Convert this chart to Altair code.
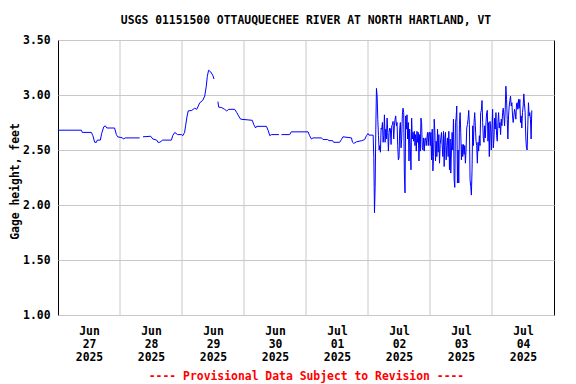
import altair as alt
import pandas as pd

TITLE = "USGS 01151500 OTTAUQUECHEE RIVER AT NORTH HARTLAND, VT"
Y_TITLE = "Gage height, feet"
FOOTER = "---- Provisional Data Subject to Revision ----"
FONT = "DejaVu Sans Mono"

START = pd.Timestamp("2025-06-27 00:00")

# Smooth part: hours after Jun 27 00:00 and gage height (ft)
smooth_hours = [0, 9.06, 9.4, 12.9, 13.5, 14.2, 14.9, 15.2, 16.4, 16.9, 17.7, 18.3, 18.9, 21.9,
                22.6, 23.1, 25, 25.4, 26, 31.6,
                32.9, 35.9, 36.7, 38.2, 38.7, 39.4, 40.5, 43.9, 44.4, 45.2, 46.3, 47.8, 48.3, 49,
                49.4, 49.9, 50.4, 51.8, 52.9, 53.7, 54.3, 54.9, 56, 56.8, 57.4, 57.8, 58.3, 59.1,
                59.9, 60.4,
                61.9, 62.2, 63.4, 64.5, 65.3, 66.1, 68.4, 69.2, 69.9, 70.7, 75.2, 75.8, 76.5, 76.9,
                80.7, 81.3, 82, 82.6, 85.5,
                86.5, 89.7, 90.3, 96.8, 97.4, 98.1, 98.7, 102, 102.6, 104.4, 104.9, 106.3, 106.7,
                109, 109.7, 110.3, 113.6, 114, 114.5, 115.6, 117.6, 118.7, 119.4, 120, 120.4, 122]
smooth_vals = [2.68, 2.68, 2.66, 2.66, 2.63, 2.57, 2.57, 2.59, 2.59, 2.65, 2.71, 2.72, 2.70, 2.70,
               2.64, 2.62, 2.61, 2.60, 2.61, 2.61,
               2.62, 2.625, 2.60, 2.59, 2.57, 2.57, 2.59, 2.59, 2.63, 2.66, 2.64, 2.64, 2.63, 2.66,
               2.72, 2.80, 2.855, 2.86, 2.88, 2.87, 2.90, 2.93, 2.95, 2.99, 3.08, 3.17, 3.225, 3.21,
               3.18, 3.145,
               2.94, 2.89, 2.885, 2.87, 2.855, 2.87, 2.87, 2.84, 2.81, 2.78, 2.77, 2.73, 2.70, 2.715,
               2.715, 2.68, 2.63, 2.64, 2.64,
               2.64, 2.64, 2.665, 2.665, 2.63, 2.60, 2.61, 2.61, 2.595, 2.595, 2.585, 2.585, 2.57,
               2.57, 2.595, 2.62, 2.61, 2.57, 2.56, 2.575, 2.585, 2.595, 2.63, 2.65, 2.635, 2.635]
gap_after_hours = [31.6, 60.4, 85.5]

# Oscillating part (Jul 02 02:00 to Jul 04 15:30), roughly 15-minute readings
osc_day2 = [2.43, 1.93, 2.16, 2.69, 3.06, 2.99, 2.78, 2.63, 2.50, 2.54, 2.48, 2.70, 2.69, 2.75,
            2.57, 2.63, 2.82, 2.57, 2.69, 2.60, 2.79, 2.66, 2.49, 2.66, 2.70, 2.69, 2.55, 2.72,
            2.73, 2.76, 2.60, 2.72, 2.78, 2.81, 2.72, 2.75, 2.54, 2.41, 2.43, 2.69, 2.75, 2.52,
            2.60, 2.82, 2.88, 2.84, 2.29, 2.11, 2.81, 2.69, 2.82, 2.60, 2.75, 2.40, 2.69, 2.52,
            2.32, 2.79, 2.60, 2.66, 2.58, 2.67, 2.54, 2.64, 2.49, 2.67, 2.57, 2.66, 2.40, 2.64,
            2.49, 2.79, 2.75, 2.52, 2.50, 2.61, 2.49, 2.60, 2.61, 2.54, 2.61, 2.66, 2.54, 2.66, 2.66]
osc_day3 = [2.54, 2.66, 2.41, 2.69, 2.31, 2.44, 2.78, 2.66, 2.40, 2.58, 2.44, 2.69, 2.48, 2.64,
            2.38, 2.55, 2.61, 2.66, 2.54, 2.44, 2.67, 2.35, 2.61, 2.66, 2.41, 2.54, 2.61, 2.44,
            2.67, 2.32, 2.60, 2.29, 2.50, 2.66, 2.50, 2.78, 2.23, 2.16, 2.75, 2.79, 2.90, 2.20,
            2.50, 2.20, 2.73, 2.84, 2.66, 2.41, 2.55, 2.44, 2.55, 2.46, 2.54, 2.38, 2.50, 2.70,
            2.73, 2.78, 2.86, 2.73, 2.23, 2.17, 2.09, 2.32, 2.72, 2.54, 2.75, 2.84, 2.72, 2.58,
            2.54, 2.38, 2.57, 2.49, 2.63, 2.54, 2.84, 2.86, 2.95, 2.75, 2.61, 2.57, 2.72, 2.61,
            2.75, 2.84, 2.86]
osc_day4 = [2.58, 2.75, 2.44, 2.76, 2.70, 2.50, 2.69, 2.87, 2.52, 2.60, 2.79, 2.69, 2.84, 2.63,
            2.58, 2.75, 2.84, 2.70, 2.75, 2.64, 2.78, 2.72, 2.84, 2.88, 2.81, 2.72, 2.87, 3.08,
            2.96, 2.78, 2.60, 2.81, 2.90, 2.95, 2.99, 2.90, 2.93, 2.81, 2.75, 2.81, 2.87, 2.84,
            2.78, 2.92, 2.93, 2.87, 2.96, 2.88, 2.96, 2.75, 2.81, 2.70, 2.84, 2.90, 3.01, 2.92,
            2.84, 2.61, 2.52, 2.50, 2.72, 2.93, 2.81, 2.84, 2.78, 2.60, 2.86]
osc_start_hours = 122.25
osc_end_hours = 183.4

grid_days = ["2025-06-28", "2025-06-29", "2025-06-30", "2025-07-01",
             "2025-07-02", "2025-07-03", "2025-07-04"]
label_days = [(6, 27), (6, 28), (6, 29), (6, 30), (7, 1), (7, 2), (7, 3), (7, 4)]
y_ticks = [1.0, 1.5, 2.0, 2.5, 3.0, 3.5]

# ---- build tables ----
osc_vals = osc_day2 + osc_day3 + osc_day4
smooth_times = [START + pd.Timedelta(hours=h) for h in smooth_hours]
smooth_seg = [sum(h > g for g in gap_after_hours) for h in smooth_hours]
osc_times = pd.date_range(START + pd.Timedelta(hours=osc_start_hours),
                          START + pd.Timedelta(hours=osc_end_hours),
                          periods=len(osc_vals))
df = pd.DataFrame({
    "time": smooth_times + list(osc_times),
    "gage": smooth_vals + osc_vals,
    "seg": smooth_seg + [len(gap_after_hours)] * len(osc_vals),
})
grid_df = pd.DataFrame({"time": pd.to_datetime(grid_days)})
title_df = pd.DataFrame({"label": [TITLE]})

x_scale = alt.Scale(domain=[alt.DateTime(year=2025, month=6, date=27),
                            alt.DateTime(year=2025, month=7, date=5)])
x_axis = alt.Axis(
    values=[alt.DateTime(year=2025, month=m, date=d, hours=12) for m, d in label_days],
    labelExpr="[timeFormat(datum.value, '%b'), timeFormat(datum.value, '%d'), timeFormat(datum.value, '%Y')]",
    grid=False, ticks=False, domain=False,
    labelFont=FONT, labelFontSize=11.4, labelFontWeight="bold", labelColor="black",
    labelBaseline="top", labelPadding=10, labelLineHeight=13, labelAlign="center",
    labelOverlap=False,
    title=FOOTER, titleFont=FONT, titleFontSize=11.4, titleFontWeight="bold",
    titleColor="#ff0000", titleBaseline="alphabetic", titleY=64,
)
x_enc = alt.X("time:T", scale=x_scale, axis=x_axis)

rules = alt.Chart(grid_df).mark_rule(color="#c8c8c8", strokeWidth=1).encode(x=x_enc)

line = alt.Chart(df).mark_line(color="#0000ff", strokeWidth=1, interpolate="linear").encode(
    x=x_enc,
    y=alt.Y("gage:Q",
            scale=alt.Scale(domain=[1.0, 3.5], nice=False, zero=False),
            axis=alt.Axis(values=y_ticks, format=".2f", grid=True, gridColor="#c8c8c8",
                          gridWidth=1, ticks=False, domain=False,
                          labelFont=FONT, labelFontSize=11.4, labelFontWeight="bold",
                          labelColor="black", labelPadding=8,
                          title=Y_TITLE, titleFont=FONT, titleFontSize=11.4,
                          titleFontWeight="bold", titleColor="black",
                          titleBaseline="alphabetic", titlePadding=4.5, titleY=141)),
    detail="seg:N",
)

title_text = alt.Chart(title_df).mark_text(
    font=FONT, fontSize=11.4, fontWeight="bold", color="black",
    align="center", baseline="alphabetic",
).encode(text="label:N", x=alt.value(248), y=alt.value(-16))

chart = alt.layer(rules, line, title_text).properties(
    width=496,
    height=275,
    autosize=alt.AutoSizeParams(type="none"),
    padding={"left": 50, "top": 32, "right": 14, "bottom": 68},
    background="white",
).configure_view(stroke="black", strokeWidth=1)

chart.save("out.html", embed_options={"renderer": "svg", "actions": False})
